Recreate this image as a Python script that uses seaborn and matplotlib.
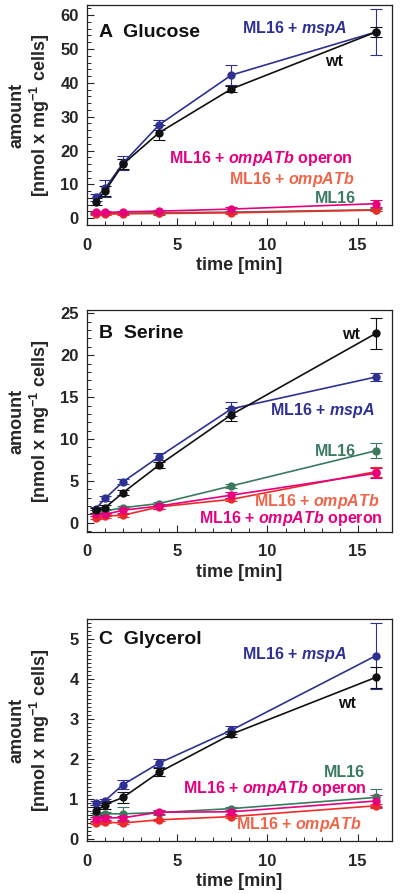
import numpy as np
import pandas as pd
import seaborn as sns
import matplotlib
matplotlib.use("Agg")
import matplotlib.pyplot as plt

sns.set_style("ticks")
plt.rcParams['font.family'] = ['Liberation Sans', 'DejaVu Sans']
plt.rcParams['mathtext.fontset'] = 'custom'
plt.rcParams['mathtext.bf'] = 'Liberation Sans:bold'
plt.rcParams['mathtext.rm'] = 'Liberation Sans:bold'
plt.rcParams['mathtext.it'] = 'Liberation Sans:bold:italic'
plt.rcParams['mathtext.default'] = 'bf'

# ---------------- data ----------------
time = [0.5, 1, 2, 4, 8, 16]
strains = ["ML16", "ML16 + ompATb", "ML16 + ompATb operon", "ML16 + mspA", "wt"]

# Glucose
glc_ml16 = [1.5, 1.4, 1.5, 1.6, 1.8, 2.5]
glc_ompa = [1.2, 1.2, 1.3, 1.4, 1.6, 2.4]
glc_oper = [1.8, 1.7, 1.9, 2.1, 2.7, 4.3]
glc_mspa = [6.2, 8.8, 16.3, 27.6, 42.3, 55.0]
glc_wt = [4.9, 8.0, 16.0, 25.3, 38.2, 55.0]
glc_ml16_e = [0.3, 0.3, 0.3, 0.3, 0.3, 0.4]
glc_ompa_e = [0.3, 0.3, 0.3, 0.3, 0.3, 0.4]
glc_oper_e = [0.3, 0.3, 0.3, 0.3, 0.5, 1.0]
glc_mspa_e = [1.0, 2.5, 2.0, 1.5, 3.0, 6.7]
glc_wt_e = [1.0, 1.5, 1.5, 2.3, 1.0, 1.5]

# Serine
ser_ml16 = [1.3, 1.4, 1.8, 2.3, 4.4, 8.6]
ser_ompa = [0.6, 0.8, 0.9, 1.9, 2.8, 6.1]
ser_oper = [1.0, 1.0, 1.5, 2.0, 3.3, 5.9]
ser_mspa = [1.7, 2.9, 4.9, 7.9, 13.6, 17.4]
ser_wt = [1.5, 1.8, 3.6, 6.9, 12.9, 22.6]
ser_ml16_e = [0.2, 0.2, 0.2, 0.2, 0.2, 0.9]
ser_ompa_e = [0.2, 0.2, 0.2, 0.2, 0.2, 0.6]
ser_oper_e = [0.2, 0.2, 0.3, 0.3, 0.4, 0.6]
ser_mspa_e = [0.2, 0.3, 0.3, 0.4, 0.8, 0.5]
ser_wt_e = [0.3, 0.3, 0.3, 0.4, 0.8, 1.8]

# Glycerol
gly_ml16 = [0.60, 0.63, 0.63, 0.66, 0.76, 1.04]
gly_ompa = [0.40, 0.42, 0.40, 0.48, 0.56, 0.83]
gly_oper = [0.50, 0.53, 0.53, 0.67, 0.68, 0.95]
gly_mspa = [0.89, 0.96, 1.36, 1.90, 2.72, 4.58]
gly_wt = [0.69, 0.86, 1.04, 1.67, 2.62, 4.04]
gly_ml16_e = [0.05, 0.05, 0.17, 0.05, 0.05, 0.22]
gly_ompa_e = [0.03, 0.03, 0.03, 0.03, 0.03, 0.05]
gly_oper_e = [0.05, 0.05, 0.05, 0.05, 0.05, 0.15]
gly_mspa_e = [0.05, 0.05, 0.12, 0.10, 0.10, 0.83]
gly_wt_e = [0.10, 0.10, 0.13, 0.10, 0.08, 0.27]

panels = [
    ("A  Glucose", [glc_ml16, glc_ompa, glc_oper, glc_mspa, glc_wt],
     [glc_ml16_e, glc_ompa_e, glc_oper_e, glc_mspa_e, glc_wt_e]),
    ("B  Serine", [ser_ml16, ser_ompa, ser_oper, ser_mspa, ser_wt],
     [ser_ml16_e, ser_ompa_e, ser_oper_e, ser_mspa_e, ser_wt_e]),
    ("C  Glycerol", [gly_ml16, gly_ompa, gly_oper, gly_mspa, gly_wt],
     [gly_ml16_e, gly_ompa_e, gly_oper_e, gly_mspa_e, gly_wt_e]),
]

line_colors = ["#3b7a5e", "#ee2a2a", "#e6007e", "#2e3192", "#111111"]
label_colors = ["#3b7a5e", "#f0654a", "#e6007e", "#2e3192", "#111111"]
label_texts = [r"ML16", r"ML16 + $\it{ompATb}$",
               r"ML16 + $\it{ompATb}$ operon",
               r"ML16 + $\it{mspA}$", "wt"]

# ---------------- layout ----------------
W, H = 400, 894
fig = plt.figure(figsize=(W / 100, H / 100), dpi=100)
boxes = [(5, 225), (310, 532), (619, 841)]
left, right = 87, 392
ylims = [(-2, 63), (-1.1, 25.4), (-0.05, 5.5)]
ymaj = [10, 5, 1]
ymin_ = [2, 1, 0.1]

# label positions (x, y) in data coords (right-aligned)
label_pos = [
    [(14.9, 5.9), (14.8, 11.5), (14.7, 17.7), (14.4, 56.0), (14.2, 46.3)],
    [(14.9, 8.5), (16.2, 2.6), (16.4, 0.5), (15.9, 13.4), (15.1, 22.5)],
    [(15.4, 1.66), (15.2, 0.37), (15.5, 1.25), (14.4, 4.6), (14.9, 3.39)],
]
title_y = [55.0, 22.6, 5.0]

for i, (title, vals, errs) in enumerate(panels):
    top, bot = boxes[i]
    ax = fig.add_axes([left / W, 1 - bot / H, (right - left) / W, (bot - top) / H])
    rows = []
    for s, v in zip(strains, vals):
        for t, a in zip(time, v):
            rows.append({"time": t, "amount": a, "strain": s})
    df = pd.DataFrame(rows)
    for k, s in enumerate(strains):
        ax.errorbar(time, vals[k], yerr=errs[k], fmt="none", ecolor=line_colors[k],
                    elinewidth=0.8, capsize=4.5, capthick=0.8, zorder=2 + k * 0.1)
    sns.lineplot(data=df, x="time", y="amount", hue="strain", hue_order=strains,
                 palette=line_colors, marker="o", markersize=6, markeredgewidth=0,
                 linewidth=1.2, legend=False, errorbar=None, ax=ax, zorder=3)
    ax.set_xlim(0, 16.9)
    ax.set_ylim(*ylims[i])
    ax.xaxis.set_major_locator(matplotlib.ticker.MultipleLocator(5))
    ax.xaxis.set_minor_locator(matplotlib.ticker.MultipleLocator(1))
    ax.yaxis.set_major_locator(matplotlib.ticker.MultipleLocator(ymaj[i]))
    ax.yaxis.set_minor_locator(matplotlib.ticker.MultipleLocator(ymin_[i]))
    ax.tick_params(which="major", direction="in", length=5, width=0.8, labelsize=12,
                   pad=6, top=False, right=False)
    ax.tick_params(axis="x", which="major", pad=9)
    ax.tick_params(which="minor", direction="in", length=2.8, width=0.7,
                   top=False, right=False)
    for lab in ax.get_xticklabels() + ax.get_yticklabels():
        lab.set_fontweight("bold")
    for sp in ax.spines.values():
        sp.set_visible(True)
        sp.set_linewidth(0.9)
        sp.set_color("#222222")
    ax.set_xlabel("time [min]", fontsize=13, fontweight="bold", labelpad=3)
    ax.set_ylabel("amount\n[nmol x mg$^{-1}$ cells]", fontsize=13,
                  fontweight="bold", linespacing=1.15)
    ax.yaxis.set_label_coords(-0.115, 0.5)
    ax.text(0.66, title_y[i], title, fontsize=14, fontweight="bold",
            ha="left", va="center", color="#111111")
    for k in range(5):
        x, y = label_pos[i][k]
        ax.text(x, y, label_texts[k], fontsize=11.5, fontweight="bold",
                color=label_colors[k], ha="right", va="center")

fig.savefig("out.png", dpi=100)
